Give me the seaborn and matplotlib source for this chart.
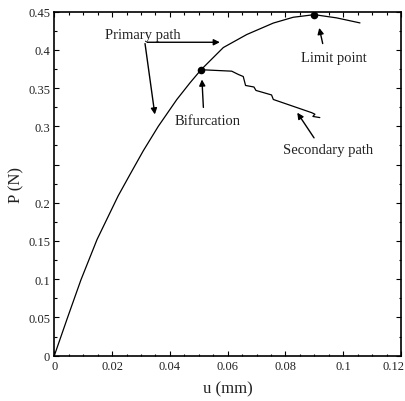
import matplotlib
matplotlib.use("Agg")
import matplotlib.pyplot as plt
import matplotlib.transforms as mtransforms
from matplotlib.ticker import FixedLocator, MultipleLocator
import pandas as pd
import seaborn as sns

# Primary equilibrium path (displacement u in mm, load P in N)
primary_u = [0.0, 0.0046, 0.0092, 0.0148, 0.0221, 0.0262, 0.0308, 0.0360, 0.0424,
             0.0470, 0.0508, 0.0585, 0.0666, 0.0758, 0.0827, 0.0900, 0.0977, 0.1058]
primary_p = [0.0, 0.050, 0.099, 0.152, 0.209, 0.237, 0.268, 0.300, 0.335,
             0.357, 0.374, 0.403, 0.420, 0.435, 0.4426, 0.446, 0.4418, 0.4352]

# Secondary (post-bifurcation) path
secondary_u = [0.0508, 0.0614, 0.0637, 0.0654, 0.0662, 0.0691, 0.0698, 0.0752,
               0.0758, 0.0891, 0.0902, 0.0895, 0.0919]
secondary_p = [0.374, 0.3721, 0.3678, 0.3651, 0.3534, 0.3514, 0.3469, 0.3410,
               0.3351, 0.3178, 0.3158, 0.3129, 0.3114]

# Special points
bifurcation = (0.0508, 0.374)
limit_point = (0.0900, 0.446)

# Axis ticks
x_ticks = [0.0, 0.02, 0.04, 0.06, 0.08, 0.10, 0.12]
x_tick_labels = ["0", "0.02", "0.04", "0.06", "0.08", "0.1", "0.12"]
y_ticks = [0.0, 0.05, 0.10, 0.15, 0.20, 0.25, 0.30, 0.35, 0.40, 0.45]
y_tick_labels = ["0", "0.05", "0.1", "0.15", "0.2", "", "0.3", "0.35", "0.4", "0.45"]

sns.set_style("ticks")
plt.rcParams["font.family"] = ["Liberation Serif", "DejaVu Serif"]

fig = plt.figure(figsize=(4.06, 4.02), dpi=100)
ax = fig.add_axes([54.3 / 406, (402 - 356.7) / 402, (401 - 54.3) / 406, (356.7 - 12.6) / 402])

prim = pd.DataFrame({"u": primary_u, "P": primary_p})
sec = pd.DataFrame({"u": secondary_u, "P": secondary_p})
sns.lineplot(data=prim, x="u", y="P", sort=False, estimator=None, ax=ax,
             color="black", lw=0.9)
sns.lineplot(data=sec, x="u", y="P", sort=False, estimator=None, ax=ax,
             color="black", lw=0.9)
pts = pd.DataFrame({"u": [bifurcation[0], limit_point[0]],
                    "P": [bifurcation[1], limit_point[1]]})
sns.scatterplot(data=pts, x="u", y="P", ax=ax, color="black", s=30,
                edgecolor="black", linewidth=0, zorder=5)

ax.set_xlim(0, 0.12)
ax.set_ylim(0, 0.45)
ax.xaxis.set_major_locator(FixedLocator(x_ticks))
ax.set_xticklabels(x_tick_labels)
ax.xaxis.set_minor_locator(MultipleLocator(0.005))
ax.yaxis.set_major_locator(FixedLocator(y_ticks))
ax.set_yticklabels(y_tick_labels)
ax.yaxis.set_minor_locator(MultipleLocator(0.025))

ax.tick_params(which="both", direction="in", top=True, right=True,
               width=0.8, color="black", labelsize=9, labelcolor="#222222")
ax.tick_params(which="major", length=3.5, pad=3)
ax.tick_params(which="minor", length=1.8)
for s in ax.spines.values():
    s.set_linewidth(1.2)
    s.set_color("black")

# keep the last x tick label inside the figure edge
last = ax.get_xticklabels()[-1]
last.set_transform(last.get_transform() +
                   mtransforms.ScaledTranslation(-7.5 / 100, 0, fig.dpi_scale_trans))

ax.set_xlabel("u (mm)", fontsize=12, labelpad=6, color="#222222")
ax.set_ylabel("P (N)", fontsize=12, labelpad=3, color="#222222")

arrow_kw = dict(arrowstyle="-|>", color="black", lw=1.0, mutation_scale=9,
                shrinkA=0, shrinkB=0)
txt_kw = dict(fontsize=10.5, ha="center", va="baseline", color="#222222")

ax.text(0.0305, 0.4157, "Primary path", **txt_kw)
ax.annotate("", xy=(0.0573, 0.4099), xytext=(0.0321, 0.4099), arrowprops=arrow_kw)
ax.annotate("", xy=(0.0348, 0.3155), xytext=(0.0314, 0.4082), arrowprops=arrow_kw)

ax.text(0.0530, 0.3025, "Bifurcation", **txt_kw)
ax.annotate("", xy=(0.0511, 0.3612), xytext=(0.0516, 0.3247), arrowprops=arrow_kw)

ax.text(0.0968, 0.3851, "Limit point", **txt_kw)
ax.annotate("", xy=(0.0917, 0.4287), xytext=(0.0929, 0.4082), arrowprops=arrow_kw)

ax.text(0.0947, 0.2646, "Secondary path", **txt_kw)
ax.annotate("", xy=(0.0841, 0.3178), xytext=(0.0899, 0.2849), arrowprops=arrow_kw)

fig.savefig("out.png", dpi=100)
